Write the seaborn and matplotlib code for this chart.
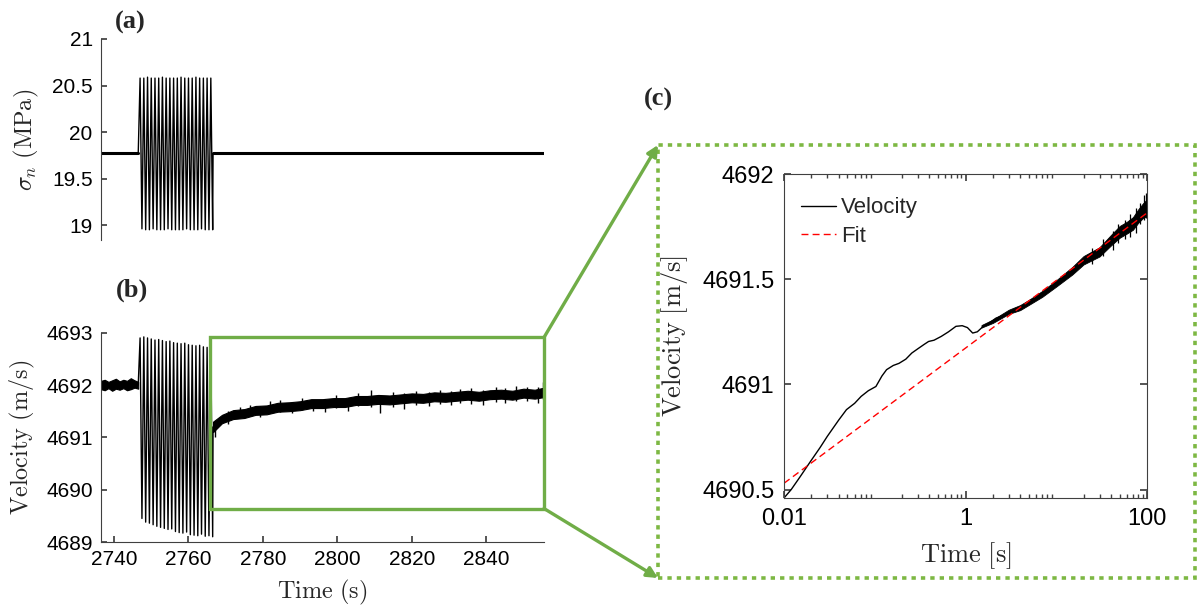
import matplotlib
matplotlib.use("Agg")
import matplotlib.pyplot as plt
from matplotlib.patches import Rectangle, ConnectionPatch
import seaborn as sns

# ---------------- data ----------------
# loading cycles (same clock for (a) and (b))
osc_peak_t = [2747.0, 2748.0, 2749.0, 2750.0, 2751.0, 2752.0, 2753.0, 2754.0, 2755.0, 2756.0,
              2757.0, 2758.0, 2759.0, 2760.0, 2761.0, 2762.0, 2763.0, 2764.0, 2765.0, 2766.0]
osc_trough_t = [2747.5, 2748.5, 2749.5, 2750.5, 2751.5, 2752.5, 2753.5, 2754.5, 2755.5, 2756.5,
                2757.5, 2758.5, 2759.5, 2760.5, 2761.5, 2762.5, 2763.5, 2764.5, 2765.5, 2766.5]

# (a) normal stress
sigma_base_t = [2736.5, 2746.5, 2766.6, 2855.5]
sigma_base = [19.77, 19.77, 19.77, 19.77]
sigma_peak = [20.58, 20.58, 20.59, 20.58, 20.58, 20.58, 20.59, 20.58, 20.58, 20.58,
              20.58, 20.59, 20.58, 20.58, 20.58, 20.59, 20.58, 20.58, 20.58, 20.58]
sigma_trough = [18.96, 18.95, 18.95, 18.96, 18.95, 18.95, 18.95, 18.96, 18.95, 18.95,
                18.95, 18.95, 18.96, 18.95, 18.95, 18.95, 18.96, 18.95, 18.95, 18.95]

# (b) velocity
vel_peak = [4692.90, 4692.92, 4692.90, 4692.88, 4692.86, 4692.87, 4692.85, 4692.83, 4692.84, 4692.81,
            4692.80, 4692.79, 4692.80, 4692.77, 4692.76, 4692.75, 4692.76, 4692.73, 4692.72, 4692.70]
vel_trough = [4689.45, 4689.38, 4689.36, 4689.33, 4689.30, 4689.28, 4689.26, 4689.24, 4689.25, 4689.20,
              4689.18, 4689.17, 4689.19, 4689.14, 4689.13, 4689.12, 4689.15, 4689.11, 4689.12, 4689.10]
pre_t = [2736.5, 2737.5, 2738.5, 2739.5, 2740.5, 2741.5, 2742.5, 2743.5, 2744.5, 2745.5, 2746.5]
pre_hi = [4692.08, 4692.10, 4692.06, 4692.09, 4692.12, 4692.07, 4692.10, 4692.08, 4692.13, 4692.09, 4692.06]
pre_lo = [4691.92, 4691.90, 4691.94, 4691.89, 4691.93, 4691.91, 4691.94, 4691.90, 4691.92, 4691.95, 4691.93]
post_t = [2766.6, 2769, 2772, 2775, 2778, 2781, 2784, 2787, 2790, 2793, 2796, 2799, 2802, 2805, 2808,
          2811, 2814, 2817, 2820, 2823, 2826, 2829, 2832, 2835, 2838, 2841, 2844, 2847, 2850, 2853, 2855.5]
post_hi = [4691.30, 4691.43, 4691.52, 4691.54, 4691.60, 4691.61, 4691.66, 4691.67, 4691.69, 4691.73,
           4691.73, 4691.75, 4691.75, 4691.79, 4691.79, 4691.81, 4691.80, 4691.82, 4691.84, 4691.83,
           4691.86, 4691.85, 4691.87, 4691.89, 4691.87, 4691.90, 4691.91, 4691.89, 4691.93, 4691.91, 4691.95]
post_lo = [4691.10, 4691.27, 4691.35, 4691.37, 4691.43, 4691.44, 4691.49, 4691.50, 4691.52, 4691.56,
           4691.56, 4691.58, 4691.58, 4691.62, 4691.62, 4691.64, 4691.63, 4691.65, 4691.67, 4691.66,
           4691.69, 4691.68, 4691.70, 4691.72, 4691.70, 4691.73, 4691.74, 4691.72, 4691.76, 4691.74, 4691.77]
# isolated noise spikes in (b)
spike_t = [2767.2, 2770.5, 2773.8, 2776.5, 2779.2, 2782.0, 2784.5, 2787.8, 2790.5, 2793.5, 2796.8,
           2799.5, 2802.8, 2805.5, 2809.0, 2811.5, 2815.0, 2818.0, 2821.0, 2824.5, 2827.5, 2830.5,
           2833.0, 2836.0, 2839.0, 2842.5, 2845.0, 2848.0, 2851.0, 2854.0, 2855.2]
spike_lo = [4691.00, 4691.25, 4691.38, 4691.42, 4691.38, 4691.46, 4691.48, 4691.46, 4691.52, 4691.50,
            4691.49, 4691.56, 4691.51, 4691.60, 4691.58, 4691.47, 4691.58, 4691.55, 4691.62, 4691.60,
            4691.63, 4691.62, 4691.66, 4691.64, 4691.62, 4691.68, 4691.66, 4691.70, 4691.70, 4691.66, 4691.74]
spike_hi = [4691.30, 4691.50, 4691.58, 4691.62, 4691.60, 4691.70, 4691.72, 4691.66, 4691.76, 4691.72,
            4691.74, 4691.80, 4691.76, 4691.84, 4691.90, 4691.80, 4691.86, 4691.84, 4691.88, 4691.86,
            4691.90, 4691.88, 4691.92, 4691.94, 4691.90, 4691.96, 4691.94, 4691.98, 4691.96, 4691.97, 4692.06]

# (c) zoomed recovery on log time
c_t = [0.01, 0.012, 0.015, 0.0196, 0.025, 0.03, 0.04, 0.0488, 0.06, 0.0708, 0.085, 0.103, 0.12,
       0.135, 0.16, 0.185, 0.22, 0.256, 0.3, 0.35, 0.392, 0.45, 0.54, 0.65, 0.785, 0.92, 1.05, 1.2,
       1.35, 1.57, 1.8, 2.17, 2.7, 3.33, 4.2, 5.11, 6.3, 7.83, 9.5, 12.0, 15, 18.4, 23, 28.3, 35,
       43.5, 55, 66.6, 80, 87, 95, 100]
c_v = [4690.46, 4690.50, 4690.56, 4690.634, 4690.70, 4690.753, 4690.83, 4690.88, 4690.91, 4690.943,
       4690.97, 4690.99, 4691.04, 4691.07, 4691.09, 4691.10, 4691.12, 4691.149, 4691.17, 4691.19,
       4691.204, 4691.21, 4691.228, 4691.25, 4691.276, 4691.279, 4691.27, 4691.244, 4691.25, 4691.276,
       4691.29, 4691.315, 4691.33, 4691.355, 4691.37, 4691.395, 4691.42, 4691.45, 4691.47, 4691.506,
       4691.54, 4691.577, 4691.60, 4691.624, 4691.66, 4691.70, 4691.74, 4691.78, 4691.80, 4691.83,
       4691.81, 4691.84]
cb_t = [1.5, 2, 3, 4, 5, 7, 10, 15, 20, 30, 40, 50, 60, 70, 80, 90, 100]
cb_hi = [4691.282, 4691.308, 4691.355, 4691.377, 4691.402, 4691.444, 4691.495, 4691.558, 4691.61,
         4691.652, 4691.71, 4691.753, 4691.773, 4691.795, 4691.832, 4691.86, 4691.88]
cb_lo = [4691.270, 4691.292, 4691.335, 4691.353, 4691.378, 4691.416, 4691.465, 4691.522, 4691.57,
         4691.608, 4691.66, 4691.697, 4691.717, 4691.735, 4691.768, 4691.79, 4691.80]
c_spike_t = [25, 33, 42, 48, 57, 65, 75, 84, 92, 97]
c_spike_lo = [4691.57, 4691.61, 4691.64, 4691.67, 4691.69, 4691.70, 4691.72, 4691.76, 4691.78, 4691.79]
c_spike_hi = [4691.65, 4691.69, 4691.73, 4691.76, 4691.78, 4691.81, 4691.84, 4691.86, 4691.90, 4691.91]
fit_t = [0.01, 100]
fit_v = [4690.53, 4691.815]

# ---------------- style ----------------
sns.set_theme(style="ticks")
plt.rcParams["font.family"] = ["Liberation Sans", "DejaVu Sans"]
plt.rcParams["mathtext.fontset"] = "cm"
plt.rcParams["axes.edgecolor"] = "#404040"
plt.rcParams["axes.linewidth"] = 0.8
plt.rcParams["xtick.color"] = "#404040"
plt.rcParams["ytick.color"] = "#404040"
plt.rcParams["xtick.labelcolor"] = "black"
plt.rcParams["ytick.labelcolor"] = "black"

GREEN = "#70AD47"
GREEN_DOT = "#7DB843"

fig = plt.figure(figsize=(12.01, 6.07), dpi=100)
W, H = 1201, 607
ax_a = fig.add_axes([101 / W, 1 - 240 / H, 443 / W, 201 / H])
ax_b = fig.add_axes([101 / W, 1 - 542 / H, 443 / W, 209.3 / H])
ax_c = fig.add_axes([784 / W, 1 - 498 / H, 363 / W, 324 / H])


def zigzag(base_t0, base_v0, tp, vp, tt, vt, base_t1, base_v1):
    ts, vs = [base_t0], [base_v0]
    for a, b, c, d in zip(tp, vp, tt, vt):
        ts += [a, c]
        vs += [b, d]
    ts.append(base_t1)
    vs.append(base_v1)
    return ts, vs


# ---------------- (a) ----------------
ta, va = zigzag(sigma_base_t[1], sigma_base[1], osc_peak_t, sigma_peak, osc_trough_t, sigma_trough,
                sigma_base_t[2], sigma_base[2])
sns.lineplot(x=ta, y=va, ax=ax_a, color="black", lw=1.0, sort=False, estimator=None)
sns.lineplot(x=sigma_base_t[:2], y=sigma_base[:2], ax=ax_a, color="black", lw=2.2)
sns.lineplot(x=sigma_base_t[2:], y=sigma_base[2:], ax=ax_a, color="black", lw=2.2)
ax_a.set_xlim(2736.5, 2855.5)
ax_a.set_ylim(18.84, 21)
ax_a.set_yticks([19, 19.5, 20, 20.5, 21])
ax_a.set_yticklabels(["19", "19.5", "20", "20.5", "21"])
for s in ["top", "right", "bottom"]:
    ax_a.spines[s].set_visible(False)
ax_a.set_xticks([])
ax_a.tick_params(axis="y", direction="in", length=4, labelsize=15, pad=6)
ax_a.set_ylabel(r"$\sigma_n\ \mathrm{(MPa)}$", fontsize=17.5)
ax_a.yaxis.set_label_coords(-0.135, 0.5)

# ---------------- (b) ----------------
tb, vb = zigzag(pre_t[-1], 4692.0, osc_peak_t, vel_peak, osc_trough_t, vel_trough, post_t[0], 4691.2)
sns.lineplot(x=tb, y=vb, ax=ax_b, color="black", lw=1.0, sort=False, estimator=None)
ax_b.fill_between(pre_t, pre_lo, pre_hi, color="black", lw=0.8)
ax_b.fill_between(post_t, post_lo, post_hi, color="black", lw=0.8)
ax_b.vlines(spike_t, spike_lo, spike_hi, color="black", lw=1.0)
ax_b.set_xlim(2736.5, 2855.5)
ax_b.set_ylim(4689, 4693)
ax_b.set_xticks([2740, 2760, 2780, 2800, 2820, 2840])
ax_b.set_yticks([4689, 4690, 4691, 4692, 4693])
ax_b.set_yticklabels(["4689", "4690", "4691", "4692", "4693"])
ax_b.set_xticklabels(["2740", "2760", "2780", "2800", "2820", "2840"])
for s in ["top", "right"]:
    ax_b.spines[s].set_visible(False)
ax_b.tick_params(direction="in", length=4, labelsize=15, pad=6)
ax_b.set_ylabel(r"$\mathrm{Velocity\ (m/s)}$", fontsize=17.5)
ax_b.yaxis.set_label_coords(-0.145, 0.5)
ax_b.set_xlabel(r"$\mathrm{Time\ (s)}$", fontsize=17.5)
ax_b.xaxis.set_label_coords(0.5, -0.17)

rect = Rectangle((2765.9, 4689.64), 2855.5 - 2765.9, 4692.91 - 4689.64, fill=False,
                 edgecolor=GREEN, lw=2.4, clip_on=False, zorder=5)
ax_b.add_patch(rect)

# ---------------- (c) ----------------
sns.lineplot(x=c_t, y=c_v, ax=ax_c, color="black", lw=1.0, label="Velocity")
ax_c.fill_between(cb_t, cb_lo, cb_hi, color="black", lw=0.6)
ax_c.vlines(c_spike_t, c_spike_lo, c_spike_hi, color="black", lw=0.9)
sns.lineplot(x=fit_t, y=fit_v, ax=ax_c, color="red", lw=1.0, linestyle=(0, (5, 3)), label="Fit")
ax_c.set_xscale("log")
ax_c.set_xlim(0.01, 100)
ax_c.set_ylim(4690.46, 4692)
ax_c.set_xticks([0.01, 1, 100])
ax_c.set_xticklabels(["0.01", "1", "100"])
ax_c.set_yticks([4690.5, 4691, 4691.5, 4692])
ax_c.set_yticklabels(["4690.5", "4691", "4691.5", "4692"])
ax_c.tick_params(which="both", direction="in", top=True, right=True, labelsize=17, pad=7)
ax_c.tick_params(which="major", length=5)
ax_c.tick_params(which="minor", length=3)
ax_c.set_ylabel(r"$\mathrm{Velocity\ [m/s]}$", fontsize=19)
ax_c.yaxis.set_label_coords(-0.26, 0.5)
ax_c.set_xlabel(r"$\mathrm{Time\ [s]}$", fontsize=19)
ax_c.xaxis.set_label_coords(0.5, -0.13)
leg = ax_c.legend(loc="upper left", bbox_to_anchor=(0.022, 0.955), frameon=False, fontsize=16,
                  handlelength=1.6, handletextpad=0.2, borderaxespad=0, labelspacing=0.35)

# ---------------- zoom box and arrows ----------------
bx0, by0, bx1, by1 = 658 / W, 1 - 578 / H, 1195 / W, 1 - 145 / H
box = Rectangle((bx0, by0), bx1 - bx0, by1 - by0, transform=fig.transFigure, fill=False,
                edgecolor=GREEN_DOT, lw=2.6, linestyle=(0, (1.2, 1.4)))
box.set_capstyle("butt")
fig.add_artist(box)

for yv, yf in [(4692.91, by1), (4689.64, by0)]:
    con = ConnectionPatch(xyA=(2855.5, yv), coordsA=ax_b.transData, xyB=(bx0, yf),
                          coordsB=fig.transFigure, arrowstyle="-|>", mutation_scale=16,
                          color=GREEN, lw=2.4, shrinkA=0, shrinkB=0)
    fig.add_artist(con)

# panel letters
fig.text(130 / W, 1 - 22 / H, "(a)", fontsize=19, fontweight="bold", family="Liberation Serif",
         ha="center", va="center")
fig.text(132 / W, 1 - 290 / H, "(b)", fontsize=19, fontweight="bold", family="Liberation Serif",
         ha="center", va="center")
fig.text(658 / W, 1 - 99 / H, "(c)", fontsize=19, fontweight="bold", family="Liberation Serif",
         ha="center", va="center")

fig.savefig("out.png", dpi=100)
